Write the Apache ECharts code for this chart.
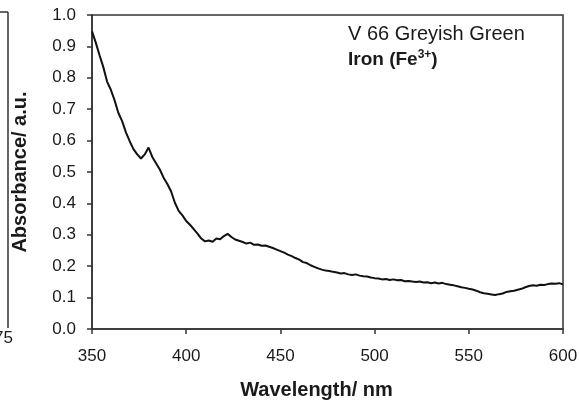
<!DOCTYPE html>
<html>
<head>
<meta charset="utf-8">
<script src="https://cdn.jsdelivr.net/npm/echarts@6/dist/echarts.min.js"></script>
<style>
  html, body { margin: 0; padding: 0; background: #fff; }
  #chart { width: 579px; height: 400px; }
</style>
</head>
<body>
<div id="chart"></div>
<script>
// wavelength grid (nm)
const wavelengths = [
  350, 352, 354, 356, 358, 360, 362, 364, 366, 368, 370, 372, 374, 376, 378, 380, 382, 384, 386, 388,
  390, 392, 394, 396, 398, 400, 402, 404, 406, 408, 410, 412, 414, 416, 418, 420, 422, 424, 426, 428,
  430, 432, 434, 436, 438, 440, 442, 444, 446, 448, 450, 452, 454, 456, 458, 460, 462, 464, 466, 468,
  470, 472, 474, 476, 478, 480, 482, 484, 486, 488, 490, 492, 494, 496, 498, 500, 502, 504, 506, 508,
  510, 512, 514, 516, 518, 520, 522, 524, 526, 528, 530, 532, 534, 536, 538, 540, 542, 544, 546, 548,
  550, 552, 554, 556, 558, 560, 562, 564, 566, 568, 570, 572, 574, 576, 578, 580, 582, 584, 586, 588,
  590, 592, 594, 596, 598, 600
];

// absorbance
const absorbance = [
  0.948, 0.912, 0.872, 0.834, 0.788, 0.762, 0.728, 0.688, 0.662, 0.626, 0.598, 0.573, 0.556, 0.543, 0.556, 0.578, 0.548, 0.528, 0.508, 0.482,
  0.462, 0.438, 0.402, 0.376, 0.362, 0.344, 0.332, 0.318, 0.304, 0.288, 0.279, 0.282, 0.278, 0.288, 0.286, 0.296, 0.303, 0.293, 0.285, 0.281,
  0.277, 0.272, 0.275, 0.268, 0.269, 0.265, 0.266, 0.262, 0.258, 0.253, 0.248, 0.243, 0.237, 0.232, 0.226, 0.221, 0.213, 0.210, 0.203, 0.198,
  0.193, 0.189, 0.186, 0.185, 0.182, 0.180, 0.177, 0.178, 0.174, 0.172, 0.174, 0.170, 0.168, 0.167, 0.164, 0.162, 0.161, 0.158, 0.159, 0.156,
  0.158, 0.155, 0.156, 0.152, 0.153, 0.151, 0.150, 0.151, 0.148, 0.149, 0.146, 0.148, 0.145, 0.147, 0.143, 0.141, 0.139, 0.136, 0.133, 0.131,
  0.128, 0.126, 0.122, 0.117, 0.114, 0.112, 0.110, 0.108, 0.111, 0.113, 0.118, 0.120, 0.122, 0.125, 0.128, 0.133, 0.137, 0.139, 0.138, 0.141,
  0.140, 0.143, 0.145, 0.144, 0.146, 0.142
];

const xTicks = [350, 400, 450, 500, 550, 600];
const yTicks = [0.0, 0.1, 0.2, 0.3, 0.4, 0.5, 0.6, 0.7, 0.8, 0.9, 1.0];

const font = '"Liberation Sans", Arial, sans-serif';
const ink = '#1a1a1a';

const myChart = echarts.init(document.getElementById('chart'), null, { renderer: 'canvas' });

const option = {
    backgroundColor: '#fff',
    animation: false,
    grid: {
        left: 92,
        right: 16,
        top: 15,
        bottom: 71,
        containLabel: false,
        outerBoundsMode: 'none',
        show: true,
        borderColor: '#333',
        borderWidth: 1.5,
        backgroundColor: 'transparent'
    },
    xAxis: {
        type: 'value',
        min: xTicks[0],
        max: xTicks[xTicks.length - 1],
        interval: 50,
        name: 'Wavelength/ nm',
        nameLocation: 'middle',
        nameGap: 51,
        nameTextStyle: { fontFamily: font, fontSize: 20, fontWeight: 'bold', color: ink, padding: [0, 22, 0, 0] },
        axisLine: { lineStyle: { color: '#333', width: 1.5 } },
        axisTick: { show: true, inside: false, length: 5, lineStyle: { color: '#333', width: 1.5 } },
        axisLabel: { fontFamily: font, fontSize: 17, color: ink, margin: 19 },
        splitLine: { show: false }
    },
    yAxis: {
        type: 'value',
        min: yTicks[0],
        max: yTicks[yTicks.length - 1],
        interval: 0.1,
        name: 'Absorbance/ a.u.',
        nameLocation: 'middle',
        nameGap: 62,
        nameTextStyle: { fontFamily: font, fontSize: 20, fontWeight: 'bold', color: ink },
        axisLine: { show: true, lineStyle: { color: '#333', width: 1.5 } },
        axisTick: { show: true, inside: false, length: 5, lineStyle: { color: '#333', width: 1.5 } },
        axisLabel: {
            fontFamily: font, fontSize: 17, color: ink, margin: 16,
            formatter: (v) => v.toFixed(1)
        },
        splitLine: { show: false }
    },
    series: [
        {
            type: 'line',
            data: wavelengths.map((w, i) => [w, absorbance[i]]),
            showSymbol: false,
            smooth: false,
            lineStyle: { color: '#111', width: 2 },
            emphasis: { disabled: true }
        }
    ],
    graphic: [
        {
            type: 'text',
            left: 348,
            top: 24,
            style: {
                text: 'V 66 Greyish Green',
                font: '20px ' + font,
                fill: ink
            }
        },
        {
            type: 'text',
            left: 348,
            top: 49,
            style: {
                text: 'Iron (Fe{sup|3+})',
                font: 'bold 19px ' + font,
                fill: ink,
                rich: {
                    sup: { fontSize: 12, fontWeight: 'bold', fontFamily: font, fill: ink, padding: [0, 0, 9, 0] }
                }
            }
        },
        // edge of the neighbouring panel on the left
        {
            type: 'line',
            shape: { x1: 8, y1: 12, x2: 8, y2: 328 },
            style: { stroke: '#333', lineWidth: 1.5 }
        },
        {
            type: 'line',
            shape: { x1: 0, y1: 12, x2: 8, y2: 12 },
            style: { stroke: '#333', lineWidth: 1.5 }
        },
        {
            type: 'text',
            left: -6,
            top: 330,
            style: { text: '75', font: '17px ' + font, fill: ink }
        }
    ]
};

myChart.setOption(option, true);
</script>
</body>
</html>
